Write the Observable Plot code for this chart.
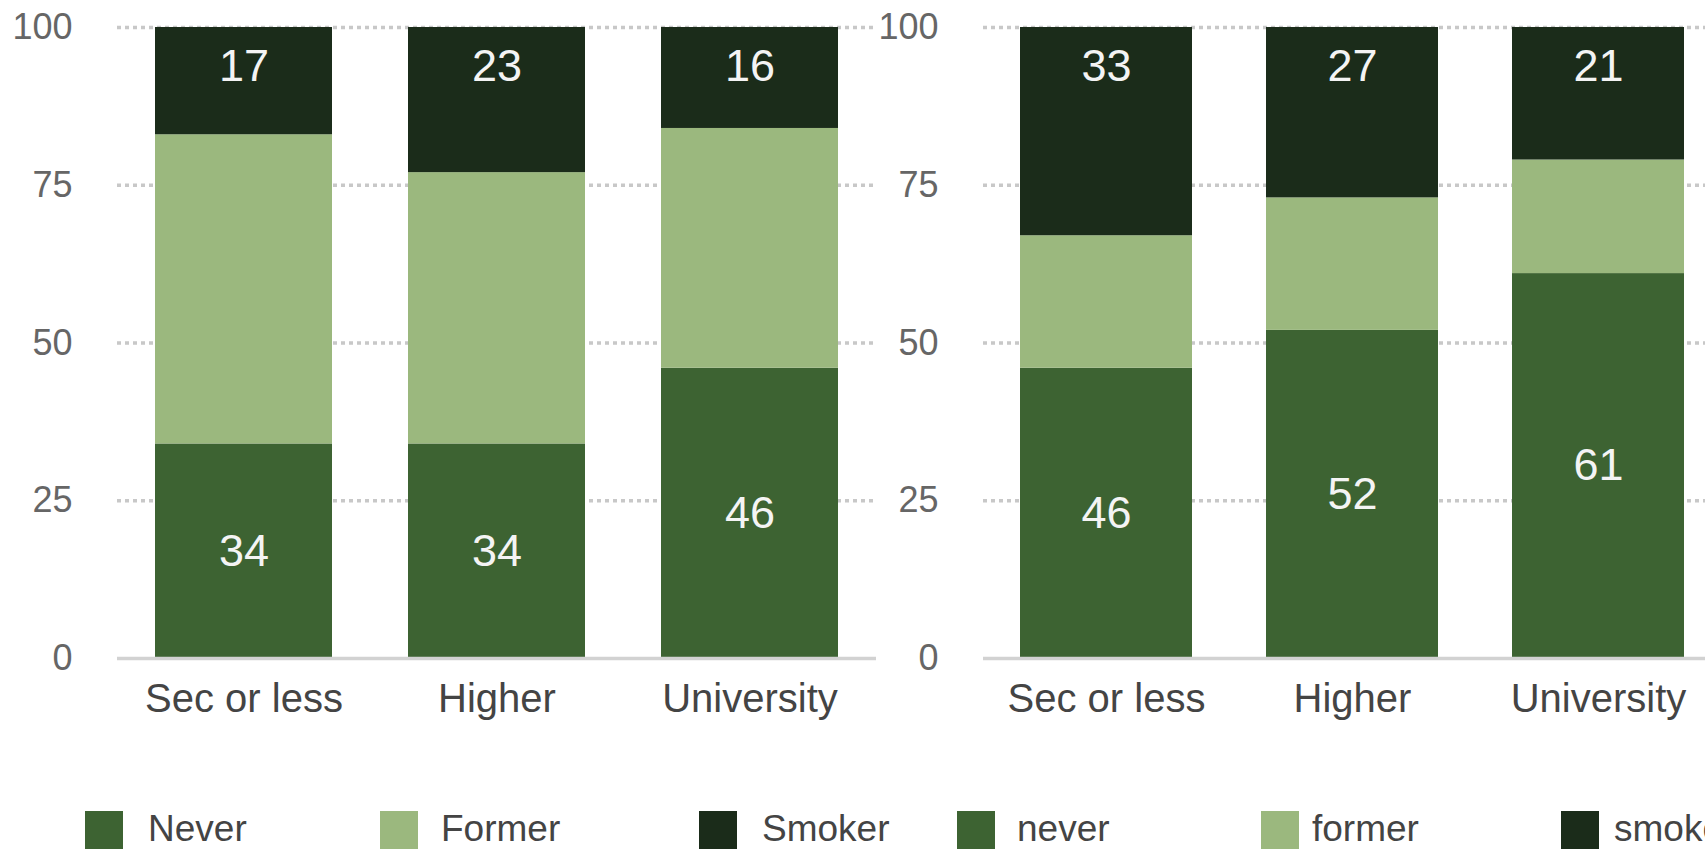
<!DOCTYPE html>
<html>
<head>
<meta charset="utf-8">
<script src="https://cdn.jsdelivr.net/npm/d3@7"></script>
<script src="https://cdn.jsdelivr.net/npm/@observablehq/plot@0.6"></script>
<style>
  html, body { margin: 0; padding: 0; background: #fff; overflow: hidden; }
  #wrap { position: relative; width: 1705px; height: 849px; overflow: hidden; font-family: "Liberation Sans", Arial, sans-serif; }
  .panel { position: absolute; top: 0; }
  .panel svg { max-width: none !important; display: block; }
  .sw { position: absolute; top: 811px; width: 38px; height: 38px; }
  .lt { position: absolute; top: 809px; font-size: 37px; line-height: 40px; color: #444; white-space: nowrap; }
</style>
</head>
<body>
<div id="wrap"></div>
<script>
// ---- data ----
const categories = ["Sec or less", "Higher", "University"];
const yTicks = [0, 25, 50, 75, 100];

const leftSeries = ["Never", "Former", "Smoker"];
const leftNever  = [34, 34, 46];
const leftFormer = [49, 43, 38];
const leftSmoker = [17, 23, 16];

const rightSeries = ["never", "former", "smoker"];
const rightNever  = [46, 52, 61];
const rightFormer = [21, 21, 18];
const rightSmoker = [33, 27, 21];

const colors = ["#3d6332", "#9bb87e", "#1b2c1a"];

// ---- layout (legend item positions, px) ----
const leftLegendSwatchX  = [85, 380, 699];
const leftLegendTextX    = [148, 441, 762];
const rightLegendSwatchX = [957, 1261, 1561];
const rightLegendTextX   = [1017, 1312, 1614];

// ---- build ----
function rows(series, never, former, smoker) {
  const out = [];
  categories.forEach((c, i) => {
    out.push({cat: c, s: series[0], v: never[i], k: 0});
    out.push({cat: c, s: series[1], v: former[i], k: 1});
    out.push({cat: c, s: series[2], v: smoker[i], k: 2});
  });
  return out;
}

function chart(series, never, former, smoker, opts) {
  const data = rows(series, never, former, smoker);
  return Plot.plot({
    width: opts.width,
    height: 760,
    marginTop: 27,
    marginBottom: 102,
    marginLeft: opts.marginLeft,
    marginRight: 0,
    style: {fontFamily: '"Liberation Sans", Arial, sans-serif', background: "transparent", overflow: "visible"},
    x: {domain: categories, paddingInner: 0.3, paddingOuter: 0.15, label: null},
    y: {domain: [0, 100], label: null},
    color: {domain: series, range: colors},
    marks: [
      Plot.gridY(yTicks.filter(t => t > 0), {stroke: "#c8c8c8", strokeOpacity: 1, strokeWidth: 3.5, strokeDasharray: "4,4"}),
      Plot.barY(data, Plot.stackY({x: "cat", y: "v", fill: "s", order: "k", inset: 0})),
      Plot.ruleY([0], {stroke: "#d2d2d2", strokeWidth: 3.5}),
      Plot.text(data.filter(d => d.k === 0), {x: "cat", y: d => d.v / 2, text: d => String(d.v), fill: "#f4f4f4", fontSize: 45}),
      Plot.text(data.filter(d => d.k === 2), {x: "cat", y: () => 100, dy: 39, text: d => String(d.v), fill: "#f4f4f4", fontSize: 45}),
      Plot.axisY({ticks: yTicks, tickSize: 0, tickPadding: 45, fontSize: 36, fill: "#666", tickFormat: d => String(d)}),
      Plot.axisX({tickSize: 0, tickPadding: 25, fontSize: 40, fill: "#444"})
    ]
  });
}

function legend(series, swX, txX) {
  series.forEach((name, i) => {
    const sw = document.createElement("div");
    sw.className = "sw";
    sw.style.left = swX[i] + "px";
    sw.style.background = colors[i];
    wrap.appendChild(sw);
    const tx = document.createElement("div");
    tx.className = "lt";
    tx.style.left = txX[i] + "px";
    tx.textContent = name;
    wrap.appendChild(tx);
  });
}

const wrap = document.getElementById("wrap");

const left = document.createElement("div");
left.className = "panel";
left.style.left = "0px";
left.appendChild(chart(leftSeries, leftNever, leftFormer, leftSmoker, {width: 876, marginLeft: 117}));
wrap.appendChild(left);

const right = document.createElement("div");
right.className = "panel";
right.style.left = "867px";
right.style.width = "854px";
right.appendChild(chart(rightSeries, rightNever, rightFormer, rightSmoker, {width: 854, marginLeft: 116}));
wrap.appendChild(right);

legend(leftSeries, leftLegendSwatchX, leftLegendTextX);
legend(rightSeries, rightLegendSwatchX, rightLegendTextX);
</script>
</body>
</html>
